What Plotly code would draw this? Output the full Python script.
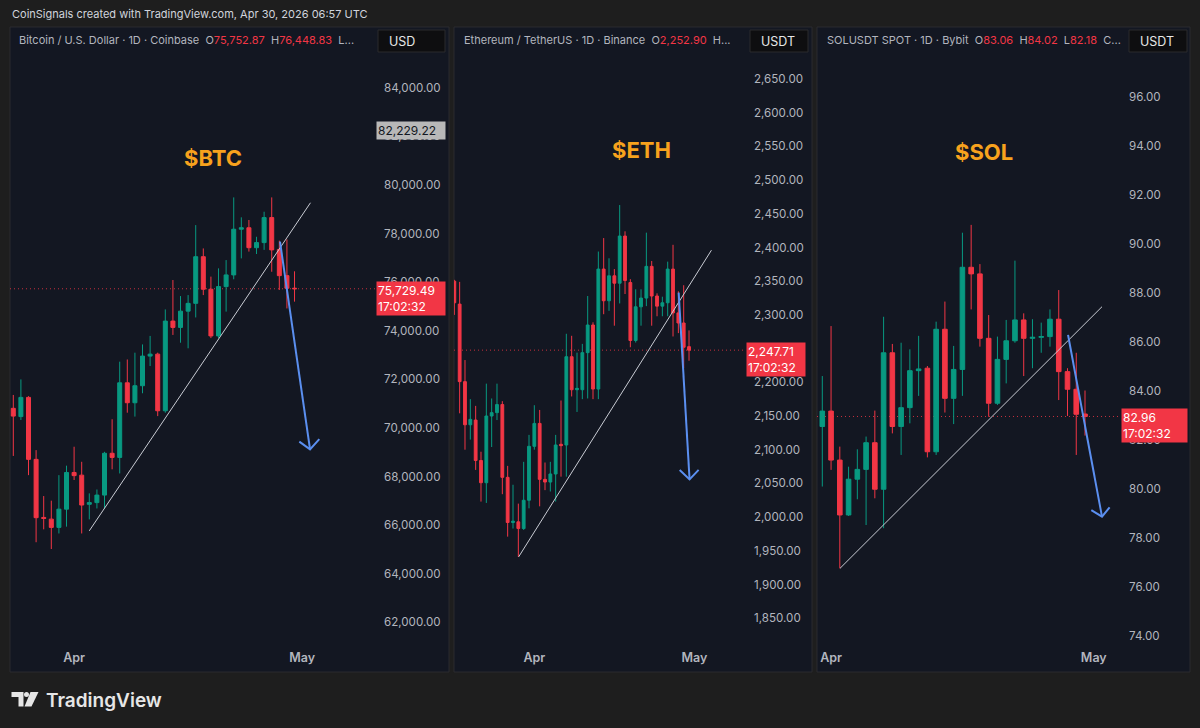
import plotly.graph_objects as go
import pandas as pd

W, H = 1200, 728

# ---------------- DATA ----------------
btc_dates = pd.date_range("2026-03-24", periods=38, freq="D")
btc_open = [70810, 70470, 71260, 68710, 66320, 66250, 65910, 66660, 68170, 68060,
            66860, 66930, 67240, 68960, 68790, 71860, 71040, 71740, 72960, 73040,
            70710, 74400, 74140, 74810, 75130, 77050, 75710, 73790, 75820, 76300,
            78180, 78240, 77420, 77630, 78660, 77350, 76270, 75752.87]
btc_high = [71360, 72000, 71310, 69090, 67200, 67010, 68060, 68450, 69230, 68610,
            67310, 67470, 69020, 70360, 72730, 72820, 73100, 73440, 73790, 73100,
            74880, 76090, 75430, 75470, 78350, 77390, 76230, 76570, 76910, 79490,
            78670, 78560, 77870, 78900, 79490, 77710, 77760, 76448.83]
btc_low = [68850, 70330, 68060, 65300, 65830, 65020, 65660, 65940, 67860, 65660,
           66240, 66690, 66690, 68300, 68130, 70630, 70470, 71430, 72550, 70490,
           70630, 73830, 73510, 73280, 74550, 75470, 73700, 73700, 74790, 76120,
           76980, 77260, 77160, 77330, 76430, 75680, 74920, 75200]
btc_close = [70490, 71260, 68710, 66310, 66280, 65910, 66660, 68170, 68040, 66830,
             66930, 67240, 68960, 68790, 71860, 71040, 71740, 72960, 73040, 70710,
             74400, 74140, 74810, 75130, 77050, 75710, 73790, 75820, 76300, 78180,
             78240, 77420, 77630, 78660, 77330, 76270, 75750, 75729.49]

eth_dates = pd.date_range("2026-03-17", periods=45, freq="D")
eth_open = [2350, 2316, 2201, 2137, 2144, 2084, 2051, 2150, 2155, 2167,
            2059, 1992, 1993, 1983, 2025, 2105, 2139, 2056, 2052, 2064,
            2108, 2107, 2238, 2189, 2189, 2244, 2285, 2190, 2368, 2321,
            2358, 2347, 2417, 2348, 2262, 2312, 2325, 2372, 2328, 2313,
            2318, 2368, 2303, 2288, 2252.90]
eth_high = [2352, 2349, 2233, 2175, 2165, 2097, 2198, 2176, 2198, 2172,
            2076, 2048, 2020, 2082, 2122, 2166, 2159, 2081, 2082, 2122,
            2173, 2272, 2269, 2244, 2257, 2328, 2289, 2394, 2414, 2384,
            2368, 2463, 2424, 2353, 2338, 2338, 2422, 2380, 2332, 2327,
            2379, 2404, 2335, 2344, 2277]
eth_low = [2300, 2154, 2100, 2115, 2070, 2023, 2021, 2104, 2144, 2034,
           1971, 1983, 1941, 1981, 2013, 2100, 2016, 2040, 2038, 2023,
           2060, 2060, 2179, 2156, 2175, 2176, 2175, 2175, 2301, 2306,
           2284, 2317, 2331, 2252, 2259, 2284, 2313, 2284, 2298, 2298,
           2298, 2268, 2273, 2221, 2232]
eth_close = [2318, 2201, 2137, 2145, 2084, 2051, 2150, 2155, 2167, 2059,
             1992, 1994, 1983, 2025, 2105, 2139, 2056, 2052, 2064, 2107,
             2106, 2238, 2189, 2191, 2244, 2285, 2190, 2368, 2321, 2358,
             2347, 2417, 2351, 2262, 2312, 2325, 2372, 2328, 2313, 2318,
             2368, 2303, 2288, 2252, 2247.71]

sol_dates = pd.date_range("2026-03-31", periods=31, freq="D")
sol_open = [82.55, 83.18, 81.18, 78.94, 80.40, 80.80, 81.89, 79.99, 85.56, 82.55,
            83.32, 84.83, 84.93, 81.52, 86.52, 83.70, 84.88, 89.05, 88.78, 86.15,
            83.50, 85.29, 86.05, 86.90, 86.15, 86.19, 86.22, 86.93, 84.79, 84.07, 83.06]
sol_high = [84.61, 86.65, 81.73, 80.91, 81.62, 82.14, 83.20, 87.03, 85.92, 85.97,
            85.70, 86.25, 85.02, 86.83, 87.65, 85.84, 90.46, 90.78, 89.18, 87.10,
            86.22, 86.90, 89.32, 87.17, 86.93, 86.79, 87.33, 88.12, 84.93, 85.56, 84.02]
sol_low = [80.10, 80.78, 76.76, 78.90, 79.58, 78.53, 79.62, 78.40, 82.27, 81.39,
           82.68, 83.80, 81.29, 81.39, 83.12, 82.65, 83.80, 87.33, 85.81, 82.95,
           83.43, 84.31, 85.97, 84.61, 84.93, 85.56, 85.81, 83.63, 82.98, 81.39, 82.18]
sol_close = [83.18, 81.18, 78.94, 80.40, 80.80, 81.89, 79.99, 85.56, 82.55, 83.32,
             84.83, 84.90, 81.52, 86.52, 83.70, 84.88, 89.05, 88.78, 86.15, 83.50,
             85.29, 86.05, 86.90, 86.15, 86.19, 86.22, 86.93, 84.79, 84.07, 83.05, 82.96]

# drawings (trend lines and arrows)
btc_trend_x = ["2026-04-03 00:00", "2026-05-02 02:24"]
btc_trend_y = [65770, 79270]
btc_arrow_x = ["2026-04-28 02:10", "2026-05-02 01:00", None, "2026-04-30 15:07", "2026-05-02 01:00", "2026-05-03 06:14"]
btc_arrow_y = [77670, 69120, None, 69440, 69120, 69540]

eth_trend_x = ["2026-03-29 01:26", "2026-05-04 04:48"]
eth_trend_y = [1941, 2396]
eth_arrow_x = ["2026-04-28 01:26", "2026-04-30 02:24", None, "2026-04-28 06:00", "2026-04-30 02:24", "2026-05-01 19:12"]
eth_arrow_y = [2333, 2056, None, 2070, 2056, 2070]

sol_trend_x = ["2026-04-02 00:29", "2026-05-01 22:34"]
sol_trend_y = [76.76, 87.44]
sol_arrow_x = ["2026-04-28 01:26", "2026-05-01 22:34", None, "2026-04-30 17:17", "2026-05-01 22:34", "2026-05-02 19:26"]
sol_arrow_y = [86.29, 78.87, None, 79.14, 78.87, 79.25]

btc_ticks = list(range(62000, 84001, 2000))
eth_ticks = list(range(1850, 2651, 50))
sol_ticks = list(range(74, 97, 2))
month_ticks = ["2026-04-01", "2026-05-01"]
month_text = ["Apr", "May"]

titles = ["$BTC", "$ETH", "$SOL"]
btc_last, eth_last, sol_last = 75729.49, 2247.71, 82.96
btc_marker = 82229.22

# ---------------- STYLE ----------------
GREEN = "#089981"
RED = "#f23645"
PANEL = "#131722"
OUTER = "#1e1e1e"
TXT = "#b2b5be"
ORANGE = "#f7a21d"
BLUE = "#5b8ff0"
FONT = "Inter, Roboto, sans-serif"


def X(px):
    return px / W


def Y(py):
    return 1 - py / H


panels = [  # panel left, plot right, panel right
    dict(left=10, pr=376, right=449),
    dict(left=454, pr=746, right=812),
    dict(left=817, pr=1121, right=1190),
]
PT, PB = 27, 672
DT, DB = 55, 648

fig = go.Figure()

sets = [
    (btc_dates, btc_open, btc_high, btc_low, btc_close, btc_trend_x, btc_trend_y, btc_arrow_x, btc_arrow_y),
    (eth_dates, eth_open, eth_high, eth_low, eth_close, eth_trend_x, eth_trend_y, eth_arrow_x, eth_arrow_y),
    (sol_dates, sol_open, sol_high, sol_low, sol_close, sol_trend_x, sol_trend_y, sol_arrow_x, sol_arrow_y),
]
for i, (d, o, h, l, c, tx, ty, ax, ay) in enumerate(sets):
    xa = "x" if i == 0 else f"x{i+1}"
    ya = "y" if i == 0 else f"y{i+1}"
    fig.add_trace(go.Candlestick(
        x=d, open=o, high=h, low=l, close=c, xaxis=xa, yaxis=ya,
        increasing=dict(line=dict(color=GREEN, width=1), fillcolor=GREEN),
        decreasing=dict(line=dict(color=RED, width=1), fillcolor=RED),
        whiskerwidth=0, showlegend=False, hoverinfo="skip"))
    fig.add_trace(go.Scatter(x=tx, y=ty, mode="lines", xaxis=xa, yaxis=ya,
                             line=dict(color="#c9ccd4", width=1), showlegend=False, hoverinfo="skip"))
    fig.add_trace(go.Scatter(x=ax, y=ay, mode="lines", xaxis=xa, yaxis=ya,
                             line=dict(color=BLUE, width=2), showlegend=False, hoverinfo="skip"))

x_ranges = [
    (btc_dates[0] - pd.Timedelta(days=0.434), btc_dates[0] + pd.Timedelta(days=47.72)),
    (eth_dates[0] - pd.Timedelta(days=0.06), eth_dates[0] + pd.Timedelta(days=54.68)),
    (sol_dates[0] - pd.Timedelta(days=0.605), sol_dates[0] + pd.Timedelta(days=34.11)),
]
y_ranges = [(60947, 85350), (1805.8, 2685.6), (73.51, 97.714)]
y_ticks = [btc_ticks, eth_ticks, sol_ticks]
y_fmt = [",.2f", ",.2f", ".2f"]

layout = dict(
    width=W, height=H, autosize=False,
    margin=dict(l=0, r=0, t=0, b=0),
    paper_bgcolor=OUTER, plot_bgcolor="rgba(0,0,0,0)",
    font=dict(family=FONT, color=TXT),
    boxgap=0.25,
)
for i in range(3):
    p = panels[i]
    sx = "" if i == 0 else str(i + 1)
    layout[f"xaxis{sx}"] = dict(
        domain=[X(p["left"]), X(p["pr"])], anchor=f"y{sx}", type="date",
        range=list(x_ranges[i]), rangeslider=dict(visible=False),
        showgrid=False, zeroline=False, showline=False, ticks="",
        tickvals=month_ticks, ticktext=month_text,
        tickfont=dict(size=12.5, color=TXT, family=FONT, weight=600))
    layout[f"yaxis{sx}"] = dict(
        domain=[Y(DB), Y(DT)], anchor=f"x{sx}", side="right",
        range=list(y_ranges[i]), showgrid=False, zeroline=False, showline=False,
        ticks="", tickvals=y_ticks[i], tickformat=y_fmt[i], ticklabelstandoff=7,
        tickfont=dict(size=11.6, color=TXT, family=FONT))
fig.update_layout(**layout)

shapes = []
for p in panels:
    shapes.append(dict(type="rect", xref="paper", yref="paper", layer="below",
                       x0=X(p["left"]), x1=X(p["right"]), y0=Y(PB), y1=Y(PT),
                       fillcolor=PANEL, line=dict(color="#2b2b2e", width=1)))

# last price dotted lines
for i, v in enumerate([btc_last, eth_last, sol_last]):
    sx = "" if i == 0 else str(i + 1)
    shapes.append(dict(type="line", xref=f"x{sx} domain", yref=f"y{sx}", x0=0, x1=1, y0=v, y1=v,
                       line=dict(color=RED, width=1, dash="1px,3px"), opacity=0.8, layer="below"))

# currency boxes
cur_boxes = [(378, 445, "USD"), (750, 808, "USDT"), (1129, 1187, "USDT")]
for x0, x1, _ in cur_boxes:
    shapes.append(dict(type="rect", xref="paper", yref="paper", x0=X(x0), x1=X(x1), y0=Y(52), y1=Y(30),
                       fillcolor="#0e0e10", line=dict(color="#2a2a2d", width=1)))


# TradingView logo
def path(pts):
    s = "M " + " L ".join(f"{X(a):.5f},{Y(b):.5f}" for a, b in pts) + " Z"
    return s


logo_col = "#e6e6e6"
shapes.append(dict(type="path", xref="paper", yref="paper", line=dict(width=0), fillcolor=logo_col,
                   path=path([(11.5, 692), (23.5, 692), (23.5, 706.5), (18.5, 706.5), (18.5, 697), (11.5, 697)])))
shapes.append(dict(type="circle", xref="paper", yref="paper", line=dict(width=0), fillcolor=logo_col,
                   x0=X(24.0), x1=X(29.0), y0=Y(697), y1=Y(692)))
shapes.append(dict(type="path", xref="paper", yref="paper", line=dict(width=0), fillcolor=logo_col,
                   path=path([(30.5, 692), (38.5, 692), (31.5, 706.5), (24.5, 706.5)])))

fig.update_layout(shapes=shapes)

ann = []
ann.append(dict(xref="paper", yref="paper", x=X(10), y=Y(14), xanchor="left", yanchor="middle",
                text="CoinSignals created with TradingView.com, Apr 30, 2026 06:57 UTC",
                showarrow=False, font=dict(size=11, color="#d1d4dc", family=FONT)))

sp = "\u00a0"
headers = [
    (17, f"Bitcoin / U.S. Dollar · 1D · Coinbase{sp}{sp}O<span style='color:{RED}'>75,752.87</span>{sp}{sp}H<span style='color:{RED}'>76,448.83</span>{sp}{sp}L..."),
    (462, f"Ethereum / TetherUS · 1D · Binance{sp}{sp}O<span style='color:{RED}'>2,252.90</span>{sp}{sp}H..."),
    (825, f"SOLUSDT SPOT · 1D · Bybit{sp}{sp}O<span style='color:{RED}'>83.06</span>{sp}{sp}H<span style='color:{RED}'>84.02</span>{sp}{sp}L<span style='color:{RED}'>82.18</span>{sp}{sp}C..."),
]
for x, t in headers:
    ann.append(dict(xref="paper", yref="paper", x=X(x), y=Y(40), xanchor="left", yanchor="middle",
                    text=t, showarrow=False, font=dict(size=11, color=TXT, family=FONT)))
for x0, x1, t in cur_boxes:
    ann.append(dict(xref="paper", yref="paper", x=X(x0 + 9), y=Y(41), xanchor="left", yanchor="middle",
                    text=t, showarrow=False, font=dict(size=12.5, color="#e6e6e6", family=FONT)))

title_pos = [(213, 158), (641, 150), (984, 152)]
for (x, y), t in zip(title_pos, titles):
    ann.append(dict(xref="paper", yref="paper", x=X(x), y=Y(y), xanchor="center", yanchor="middle",
                    text=f"<b>{t}</b>", showarrow=False, font=dict(size=22, color=ORANGE, family=FONT)))

# price labels
last_vals = [(btc_last, ",.2f", 68), (eth_last, ",.2f", 58), (sol_last, ".2f", 65)]
for i, (v, fmt, wbox) in enumerate(last_vals):
    sx = "" if i == 0 else str(i + 1)
    ann.append(dict(xref="paper", yref=f"y{sx}", x=X(panels[i]["pr"]), y=v, xanchor="left", yanchor="top",
                    yshift=8, text=f"{format(v, fmt)}<br>17:02:32", align="left", showarrow=False,
                    bgcolor=RED, borderpad=1, width=wbox - 2,
                    font=dict(size=12, color="#ffffff", family=FONT)))
ann.append(dict(xref="paper", yref="y", x=X(376), y=btc_marker, xanchor="left", yanchor="middle",
                text=format(btc_marker, ",.2f"), align="left", showarrow=False,
                bgcolor="#b8b8b8", borderpad=1, width=66,
                font=dict(size=12, color="#131722", family=FONT)))

ann.append(dict(xref="paper", yref="paper", x=X(44), y=Y(700), xanchor="left", yanchor="middle",
                text="TradingView", showarrow=False,
                font=dict(size=19, color="#e6e6e6", family="Inter, sans-serif", weight=600)))

fig.update_layout(annotations=ann)

fig.write_html("out.html", config={"displayModeBar": False},
               post_script="document.body.style.margin='0';document.body.style.overflow='hidden';")
